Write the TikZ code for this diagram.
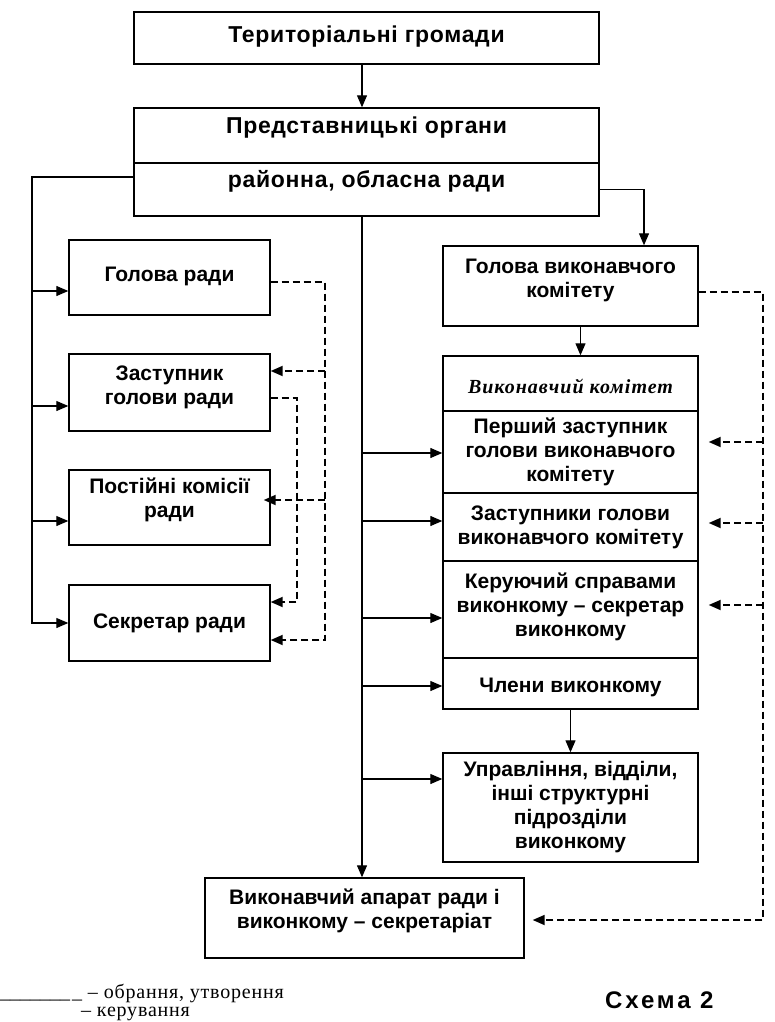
\documentclass[tikz,border=0pt]{standalone}
\usepackage{fontspec}
\setmainfont{Liberation Serif}
\setsansfont{Liberation Sans}
\usetikzlibrary{arrows.meta}

\newcommand\blockfont{\sffamily\bfseries\fontsize{21}{24}\selectfont}
\newcommand\widefont{\sffamily\bfseries\fontsize{23}{26}\selectfont\addfontfeature{LetterSpace=3}}
\newcommand\committeefont{\rmfamily\bfseries\itshape\fontsize{20}{22}\selectfont\addfontfeature{LetterSpace=5}}

\begin{document}
\begin{tikzpicture}[x=1pt,y=-1pt]
\tikzset{box/.style={draw, line width=1.4pt, font=\blockfont, align=center, inner sep=2pt},
         top row/.style={box, minimum width=465pt, font=\widefont},
         left col/.style={box, minimum width=201pt},
         right col/.style={box, minimum width=255pt},
         lift/.style={execute at end node={\rule[-#1pt]{0pt}{#1pt}}},
         sink/.style={execute at begin node={\rule{0pt}{#1pt}}},
         arr/.style={line width=1.2pt, -{Triangle[length=12pt,width=10pt]}},
         darr/.style={arr, line width=1.8pt, dash pattern=on 7pt off 4pt},
         legend/.style={font=\rmfamily\fontsize{20}{22}\selectfont\addfontfeature{LetterSpace=4}, inner sep=0pt, anchor=base west}}
\useasboundingbox (0,0) rectangle (775,1022);

\node[top row, minimum height=52pt, lift=8] (terr) at (366.5,38) {Територіальні громади};
\node[top row, minimum height=55pt, lift=20] (reprA) at (366.5,135.5) {Представницькі органи};
\node[top row, minimum height=53pt, lift=22] (reprB) at (366.5,189.5) {районна, обласна ради};

\node[left col, minimum height=75pt, lift=6] (holova) at (169.5,277.5) {Голова ради};
\node[left col, minimum height=77pt, lift=15] (zast) at (169.5,392.5) {Заступник\\голови ради};
\node[left col, minimum height=75pt, lift=19] (post) at (169.5,507.5) {Постійні комісії\\ради};
\node[left col, minimum height=76pt] (secr) at (169.5,623) {Секретар ради};

\node[right col, minimum height=80pt, lift=16] (holvyk) at (570.5,286) {Голова виконавчого\\комітету};
\node[right col, minimum height=55pt, sink=21, font=\committeefont] (vykom) at (570.5,383.5) {Виконавчий комітет};
\node[right col, minimum height=82pt, sink=24] (pershyi) at (570.5,452) {Перший заступник\\голови виконавчого\\комітету};
\node[right col, minimum height=68pt] (zastupnyky) at (570.5,527) {Заступники голови\\виконавчого комітету};
\node[right col, minimum height=97pt, lift=9] (keruyuchyi) at (570.5,609.5) {Керуючий справами\\виконкому – секретар\\виконкому};
\node[right col, minimum height=51pt, sink=23] (chleny) at (570.5,683.5) {Члени виконкому};
\node[right col, minimum height=109pt] (upravl) at (570.5,807.5) {Управління, відділи,\\інші структурні\\підрозділи\\виконкому};

\node[box, minimum width=319pt, minimum height=80pt, lift=19] (aparat) at (364.5,918) {Виконавчий апарат ради і\\виконкому – секретаріат};

\coordinate (lbus) at (32,177);
\coordinate (spine) at (362,216);
\coordinate (rbus) at (644,190);
\coordinate (ld1) at (325,282);
\coordinate (ld2) at (297,398);
\coordinate (rd) at (763,292);

\draw[arr] (terr.south -| spine) -- (reprA.north -| spine);
\draw[arr] (reprB.west |- lbus) -- (lbus) |- (secr.west);
\foreach \n in {holova,zast,post} {
  \coordinate (\n-in) at ([yshift=-13.5pt]\n.west);
  \draw[arr] (lbus |- \n-in) -- (\n-in);
}
\draw[arr] (reprB.east) -| (rbus |- holvyk.north);
\draw[arr] ([xshift=10pt]holvyk.south) -- ([xshift=10pt]vykom.north);
\draw[arr] (chleny.south) -- (upravl.north);
\draw[arr] (spine) -- (aparat.north -| spine);
\foreach \n/\s in {pershyi/-1,zastupnyky/6,keruyuchyi/-8.5,chleny/-2.5,upravl/28.5} {
  \coordinate (\n-in) at ([yshift=\s pt]\n.west);
  \draw[arr] (spine |- \n-in) -- (\n-in);
}

\coordinate (zast-dash) at ([yshift=21.5pt]zast.east);
\coordinate (post-dash) at ([yshift=7.5pt]post.east);
\draw[darr] ([yshift=-4.5pt]holova.east) -- (ld1) |- ([yshift=-17pt]secr.east);
\draw[darr] (ld1 |- zast-dash) -- (zast-dash);
\draw[darr, shorten >=-7pt] (ld1 |- post-dash) -- (post-dash);
\draw[darr] ([yshift=-5.5pt]zast.east) -- (ld2) |- ([yshift=21pt]secr.east);

\draw[darr, shorten >=8pt] ([yshift=-6pt]holvyk.east) -- (rd) |- ([yshift=-2pt]aparat.east);
\foreach \n/\s in {pershyi/10,zastupnyky/4,keruyuchyi/4.5} {
  \coordinate (\n-dash) at ([yshift=\s pt]\n.east);
  \draw[darr, shorten >=10pt] (rd |- \n-dash) -- (\n-dash);
}

\node[legend] (leg1) at (0,998) {{\addfontfeature{LetterSpace=0}\_\_\_\_\_\_\_\kern2pt\_} – обрання, утворення};
\node[legend] (leg2) at (81,1016) {– керування};
\node[anchor=base west, inner sep=0pt, font=\sffamily\bfseries\fontsize{24}{26}\selectfont\addfontfeature{LetterSpace=12}] (scheme) at (605,1008) {Схема 2};
\end{tikzpicture}
\end{document}
